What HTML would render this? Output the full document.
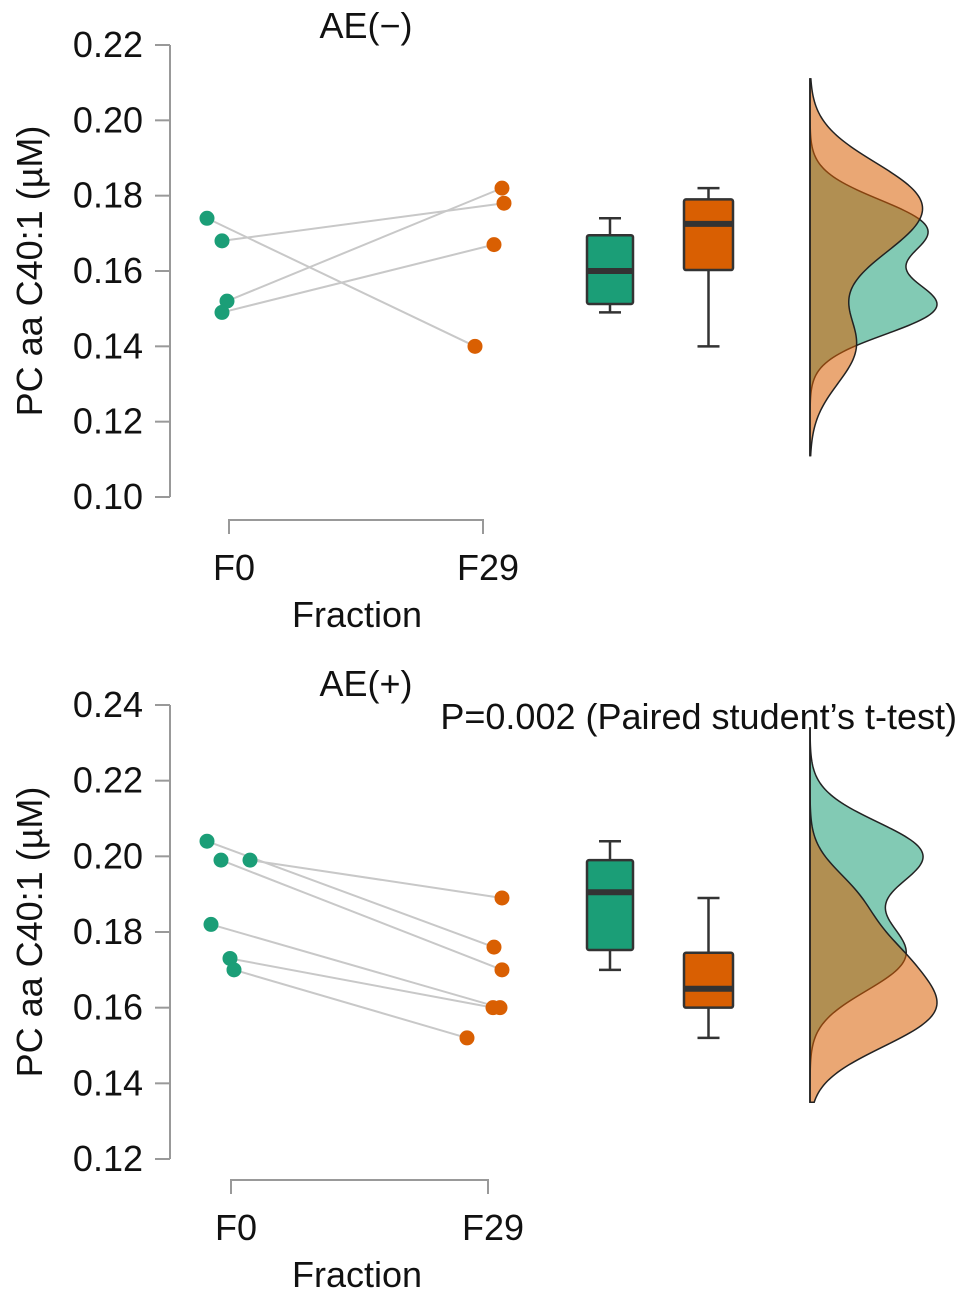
<!DOCTYPE html>
<html><head><meta charset="utf-8">
<style>
html,body{margin:0;padding:0;background:#fff;}
svg{display:block;font-family:"Liberation Sans",sans-serif;}
</style></head>
<body>
<svg id="chart" width="969" height="1303"></svg>
<script>
// ---- data ----
const topF0 = [0.174, 0.168, 0.152, 0.149];
const topF29 = [0.140, 0.178, 0.182, 0.167];
const topF0x = [207, 222, 227, 222];
const topF29x = [475, 504, 502, 494];
const topTicks = [0.10, 0.12, 0.14, 0.16, 0.18, 0.20, 0.22];
const botF0 = [0.204, 0.199, 0.199, 0.182, 0.173, 0.170];
const botF29 = [0.176, 0.170, 0.189, 0.160, 0.160, 0.152];
const botF0x = [207, 221, 250, 211, 230, 234];
const botF29x = [494, 502, 502, 500, 493, 467];
const botTicks = [0.12, 0.14, 0.16, 0.18, 0.20, 0.22, 0.24];
const categories = ["F0", "F29"];

const NS = "http://www.w3.org/2000/svg";
const svg = document.getElementById("chart");
const GREEN = "#1b9e77", ORANGE = "#d95f02";
const FS = 36;
function mk(tag, attrs, parent) {
  const e = document.createElementNS(NS, tag);
  for (const k in attrs) e.setAttribute(k, attrs[k]);
  (parent || svg).appendChild(e);
  return e;
}
function quant(arr, p) {
  const s = [...arr].sort((a, b) => a - b);
  const h = (s.length - 1) * p, lo = Math.floor(h), hi = Math.ceil(h);
  return s[lo] + (s[hi] - s[lo]) * (h - lo);
}
function kde(arr, v, bw) {
  let s = 0;
  for (const x of arr) s += Math.exp(-0.5 * ((v - x) / bw) ** 2);
  return s / (arr.length * bw);
}

function panel(o) {
  const g = mk("g", {});
  
  
  const y = v => o.y0 + (o.vmax - v) / (o.vmax - o.vmin) * (o.y1 - o.y0);
  const ax = mk("line", {x1: 170, x2: 170, y1: y(o.vmax), y2: y(o.vmin), stroke: "#999", "stroke-width": 2}, g);
  
  
  o.ticks.forEach(t => {
    const tl = mk("line", {x1: 155, x2: 170, y1: y(t), y2: y(t), stroke: "#999", "stroke-width": 2}, g);
    
    
    const tx = mk("text", {x: 143, y: y(t) + 12, "text-anchor": "end", "font-size": FS, fill: "#111"}, g);
    tx.textContent = t.toFixed(2);
    
    
  });
  const yl = mk("text", {x: 0, y: 0, transform: `translate(42,${(y(o.vmax) + y(o.vmin)) / 2}) rotate(-90)`, "text-anchor": "middle", "font-size": FS, fill: "#111"}, g);
  yl.textContent = "PC aa C40:1 (\u00b5M)";
  
  
  const by = o.bracketY;
  const br = mk("path", {d: `M${o.xa},${by + 14}V${by}H${o.xb}V${by + 14}`, fill: "none", stroke: "#999", "stroke-width": 2}, g);
  
  
  [o.xa, o.xb].forEach((xx, i) => {
    const t = mk("text", {x: xx + 5, y: by + 60, "text-anchor": "middle", "font-size": FS, fill: "#111"}, g);
    t.textContent = categories[i];
    
    
  });
  const xt = mk("text", {x: 357, y: by + 107, "text-anchor": "middle", "font-size": FS, fill: "#111"}, g);
  xt.textContent = "Fraction";
  
  
  const tt = mk("text", {x: 366, y: o.titleY, "text-anchor": "middle", "font-size": FS, fill: "#111"}, g);
  tt.textContent = o.title;
  
  
  o.a.forEach((v, i) => {
    const l = mk("line", {x1: o.ax[i], y1: y(v), x2: o.bx[i], y2: y(o.b[i]), stroke: "#c8c8c8", "stroke-width": 2}, g);
    
    
  });
  o.a.forEach((v, i) => {
    const c = mk("circle", {cx: o.ax[i], cy: y(v), r: 7.5, fill: GREEN}, g);
    
    
  });
  o.b.forEach((v, i) => {
    const c = mk("circle", {cx: o.bx[i], cy: y(v), r: 7.5, fill: ORANGE}, g);
    
    
  });
  [[o.a, 587, 633, GREEN, 'box-f0'], [o.b, 684, 733, ORANGE, 'box-f29']].forEach(([d, x1, x2, col, nm]) => {
    const q1 = quant(d, .25), q2 = quant(d, .5), q3 = quant(d, .75);
    const mn = Math.min(...d), mx = Math.max(...d), cx = (x1 + x2) / 2;
    const bg = mk("g", {stroke: "#333", "stroke-width": 2.5}, g);
    
    
    mk("line", {x1: cx, x2: cx, y1: y(mx), y2: y(mn)}, bg);
    mk("line", {x1: cx - 11, x2: cx + 11, y1: y(mx), y2: y(mx)}, bg);
    mk("line", {x1: cx - 11, x2: cx + 11, y1: y(mn), y2: y(mn)}, bg);
    mk("rect", {x: x1, y: y(q3), width: x2 - x1, height: y(q1) - y(q3), fill: col, rx: 2}, bg);
    mk("line", {x1: x1, x2: x2, y1: y(q2), y2: y(q2), "stroke-width": 6}, bg);
  });
  const steps = [];
  for (let v = o.dmin; v <= o.dmax + 1e-9; v += (o.dmax - o.dmin) / 200) steps.push(v);
  const da = steps.map(v => kde(o.a, v, o.bwA));
  const db = steps.map(v => kde(o.b, v, o.bwB));
  const mxD = Math.max(...da, ...db);
  const sc = 127 / mxD;
  const dg = mk("g", {}, g);
  
  
  const order = o.greenFirst ? [[da, GREEN, 'density-f0'], [db, ORANGE, 'density-f29']] : [[db, ORANGE, 'density-f29'], [da, GREEN, 'density-f0']];
  order.forEach(([dd, col, nm]) => {
    let p = `M810,${y(steps[0])}`;
    steps.forEach((v, i) => p += `L${810 + dd[i] * sc},${y(v)}`);
    p += `L810,${y(steps[steps.length - 1])}Z`;
    const pe = mk("path", {d: p, fill: col, "fill-opacity": 0.55, stroke: "#222", "stroke-width": 1.5}, dg);
    
    
  });
  const bl = mk("line", {x1: 810, x2: 810, y1: y(o.dmax), y2: y(o.dmin), stroke: "#222", "stroke-width": 1.5}, dg);
  
  
}

panel({name: "panel-ae-negative", title: "AE(\u2212)", titleY: 38, y0: 45, y1: 497, vmin: 0.10, vmax: 0.22, ticks: topTicks,
  a: topF0, b: topF29, ax: topF0x, bx: topF29x, xa: 229, xb: 483, bracketY: 520,
  dmin: 0.111, dmax: 0.211, bwA: 0.0072, bwB: 0.0100, greenFirst: true});
panel({name: "panel-ae-positive", title: "AE(+)", titleY: 696, y0: 705, y1: 1159, vmin: 0.12, vmax: 0.24, ticks: botTicks,
  a: botF0, b: botF29, ax: botF0x, bx: botF29x, xa: 231, xb: 488, bracketY: 1180,
  dmin: 0.135, dmax: 0.234, bwA: 0.0082, bwB: 0.0078, greenFirst: true});

const pt = mk("text", {x: 957, y: 729, "text-anchor": "end", "font-size": FS, fill: "#111"});
pt.textContent = "P=0.002 (Paired student\u2019s t-test)";


</script>
</body></html>
